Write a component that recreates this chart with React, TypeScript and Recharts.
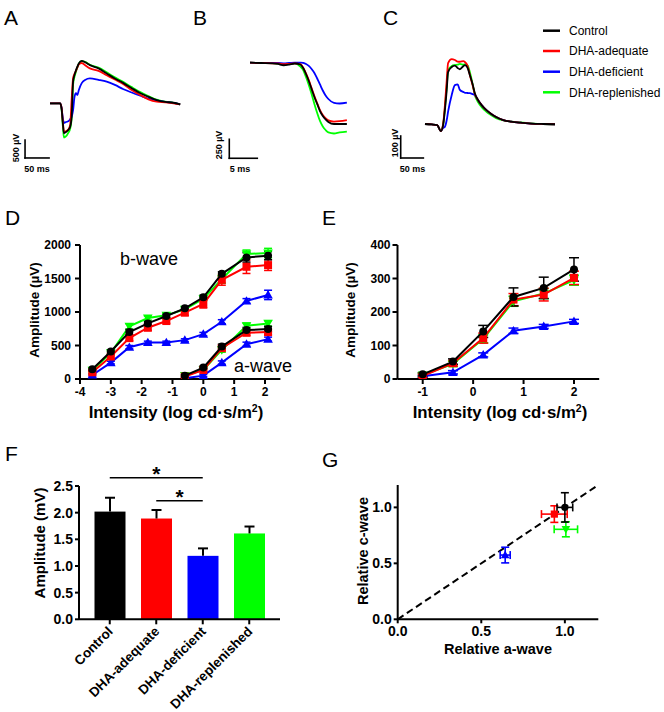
import React from "react";
import {
  LineChart,
  Line,
  XAxis,
  YAxis,
  ReferenceLine,
  ScatterChart,
  Scatter,
  ErrorBar,
  BarChart,
  Bar,
  Cell,
} from "recharts";

const FONT = "'Liberation Sans', Arial, Helvetica, sans-serif";

const groups = ["Control", "DHA-adequate", "DHA-deficient", "DHA-replenished"];
const groupColors = ["#000000", "#ff0000", "#0000ff", "#00ff00"];
const groupMarks = ["circle", "square", "up", "down"];
// replenished first, control last so black sits on top
const drawOrder = [3, 2, 1, 0];

// A: mixed rod-cone response (ms, µV)
const traceATime = [0, 21, 24, 27, 29, 33, 38, 42, 45, 48, 51, 54, 57, 60, 66, 73, 83, 101, 118, 135, 153, 170, 188, 205, 222, 240, 257, 271];
const traceAControl = [0, 0, -140, -600, -830, -800, -740, -650, -370, 600, 790, 920, 1020, 1110, 1180, 1140, 1060, 970, 830, 690, 560, 420, 280, 180, 90, 40, 15, -30];
const traceAAdequate = [0, 0, -120, -560, -790, -780, -730, -600, 100, 700, 820, 900, 1000, 1080, 1120, 1060, 970, 900, 780, 660, 530, 370, 230, 110, 45, 25, 0, -30];
const traceADeficient = [0, 0, -120, -450, -540, -520, -500, -440, -370, -190, 180, 280, 230, 370, 560, 650, 690, 650, 600, 510, 390, 300, 210, 130, 80, 40, 10, -30];
const traceAReplenished = [0, 0, -160, -680, -950, -920, -820, -700, -420, 520, 740, 880, 1000, 1100, 1170, 1150, 1070, 990, 860, 720, 590, 450, 310, 200, 100, 45, 15, -30];

// B: a-wave leading edge (ms, µV)
const traceBTime = [0, 2, 4, 5, 6, 7, 8, 9, 9.5, 10, 10.5, 11, 11.5, 12, 12.5, 13, 13.5, 14, 15, 16, 17.3];
const traceBControl = [0, -4, -8, -17, -34, -26, -11, -24, -70, -149, -241, -346, -451, -543, -636, -701, -747, -780, -807, -807, -807];
const traceBAdequate = [0, -4, -8, -10, -20, -15, -8, -20, -65, -140, -230, -335, -440, -535, -625, -690, -730, -760, -775, -770, -755];
const traceBDeficient = [0, -4, -4, -4, -8, -4, 0, 0, -4, -17, -43, -83, -136, -208, -287, -366, -432, -478, -530, -537, -526];
const traceBReplenished = [0, -4, -4, -11, -17, -11, -4, -53, -96, -188, -293, -412, -543, -662, -767, -839, -886, -918, -932, -918, -908];

// C: c-wave (ms, µV)
const traceCTime = [0, 15, 27, 35, 40, 44, 48, 51, 59, 66, 72, 77, 85, 88, 94, 99, 105, 110, 117, 125, 135, 144, 157, 173, 190, 210, 234, 261, 287];
const traceCControl = [0, -2, -5, -32, -5, 64, 155, 236, 259, 265, 255, 249, 264, 268, 255, 223, 182, 140, 109, 86, 64, 49, 32, 18, 11, 6, 2, 0, -1];
const traceCAdequate = [0, -2, -5, -32, 0, 86, 200, 277, 295, 291, 284, 283, 286, 282, 264, 223, 177, 136, 109, 86, 64, 49, 32, 18, 11, 6, 2, 0, -1];
const traceCDeficient = [0, -2, -5, -32, -18, -12, 18, 56, 132, 177, 180, 155, 145, 142, 141, 140, 136, 132, 109, 86, 64, 49, 32, 18, 11, 6, 2, 0, -1];
const traceCReplenished = [0, -2, -5, -32, -5, 73, 173, 245, 264, 268, 270, 273, 270, 271, 266, 236, 182, 132, 100, 77, 57, 43, 27, 16, 11, 7, 3, 0, -1];

// D: intensity-response, b-wave and a-wave (µV)
const dIntensityB = [-3.6, -3.0, -2.4, -1.8, -1.2, -0.6, 0, 0.6, 1.4, 2.1];
const dIntensityA = [-0.6, 0, 0.6, 1.4, 2.1];
const bWaveControl = [145, 410, 700, 830, 940, 1055, 1220, 1570, 1815, 1840];
const bWaveAdequate = [100, 335, 610, 765, 865, 990, 1120, 1480, 1675, 1700];
const bWaveDeficient = [60, 245, 475, 545, 545, 580, 670, 855, 1165, 1255];
const bWaveReplenished = [130, 390, 785, 910, 950, 1040, 1200, 1490, 1865, 1880];
const bWaveControlSem = [25, 25, 40, 30, 25, 25, 30, 30, 70, 60];
const bWaveAdequateSem = [25, 30, 40, 40, 35, 40, 60, 80, 100, 80];
const bWaveDeficientSem = [15, 20, 25, 20, 20, 20, 25, 30, 35, 70];
const bWaveReplenishedSem = [25, 25, 40, 30, 30, 25, 30, 60, 60, 70];
const aWaveControl = [50, 170, 485, 730, 745];
const aWaveAdequate = [35, 135, 460, 690, 700];
const aWaveDeficient = [10, 50, 245, 520, 595];
const aWaveReplenished = [50, 135, 435, 795, 830];
const aWaveControlSem = [15, 20, 35, 40, 40];
const aWaveAdequateSem = [15, 20, 35, 40, 40];
const aWaveDeficientSem = [10, 15, 25, 30, 30];
const aWaveReplenishedSem = [15, 20, 35, 40, 40];
const dTicksX = [-4, -3, -2, -1, 0, 1, 2];
const dTicksY = [0, 500, 1000, 1500, 2000];

// E: cone intensity-response (µV)
const eIntensity = [-1, -0.4, 0.2, 0.8, 1.4, 2.0];
const coneControl = [14, 52, 142, 245, 272, 327];
const coneAdequate = [9, 47, 122, 237, 252, 302];
const coneDeficient = [8, 20, 72, 144, 157, 172];
const coneReplenished = [12, 45, 120, 232, 255, 295];
const coneControlSem = [5, 8, 18, 27, 32, 35];
const coneAdequateSem = [5, 8, 15, 18, 19, 20];
const coneDeficientSem = [3, 5, 6, 8, 6, 6];
const coneReplenishedSem = [5, 8, 12, 15, 15, 15];
const eTicksX = [-1, 0, 1, 2];
const eTicksY = [0, 100, 200, 300, 400];

// F: c-wave amplitude (mV)
const cWaveAmp = [2.02, 1.89, 1.19, 1.61];
const cWaveSem = [0.26, 0.16, 0.14, 0.13];
const fTicksY = [0, 0.5, 1, 1.5, 2, 2.5];

// G: relative a-wave vs relative c-wave
const relA = [1.0, 0.937, 0.643, 1.006];
const relASem = [0.047, 0.077, 0.03, 0.07];
const relC = [1.0, 0.94, 0.574, 0.804];
const relCSem = [0.131, 0.074, 0.07, 0.067];
const gTicks = [0, 0.5, 1.0];

const axisLine = { stroke: "#000", strokeWidth: 2 };
const tickSmall = { fontSize: 12, fontWeight: 700, fill: "#000" };
const tickLarge = { fontSize: 14, fontWeight: 700, fill: "#000" };

function traceRows(time: number[], series: number[][]) {
  return time.map((t, i) => ({
    t,
    s0: series[0][i],
    s1: series[1][i],
    s2: series[2][i],
    s3: series[3][i],
  }));
}

const toPoints = (xs: number[], ys: number[], es: number[]) =>
  xs.map((x, i) => ({ x, y: ys[i], e: es[i] }));

function Mark({ cx, cy, kind, color, s }: any) {
  if (cx == null || cy == null) return null;
  if (kind === "circle") return <circle cx={cx} cy={cy} r={s} fill={color} />;
  if (kind === "square")
    return <rect x={cx - s} y={cy - s} width={2 * s} height={2 * s} fill={color} />;
  const h = s * 1.2;
  const pts =
    kind === "up"
      ? `${cx},${cy - h} ${cx + h},${cy + h * 0.75} ${cx - h},${cy + h * 0.75}`
      : `${cx},${cy + h} ${cx + h},${cy - h * 0.75} ${cx - h},${cy - h * 0.75}`;
  return <polygon points={pts} fill={color} />;
}

function TracePanel({ left, top, width, height, rows, xDomain, yDomain, bar }: any) {
  return (
    <div style={{ position: "absolute", left, top }}>
      <LineChart width={width} height={height} data={rows} margin={{ top: 0, right: 0, bottom: 0, left: 0 }}>
        <XAxis type="number" dataKey="t" domain={xDomain} hide allowDataOverflow />
        <YAxis type="number" domain={yDomain} hide allowDataOverflow width={0} />
        <ReferenceLine
          segment={[{ x: bar.t, y: bar.v + bar.dv }, { x: bar.t, y: bar.v }]}
          stroke="#000"
          strokeWidth={1.6}
          strokeLinecap="square"
        />
        <ReferenceLine
          segment={[{ x: bar.t, y: bar.v }, { x: bar.t + bar.dt, y: bar.v }]}
          stroke="#000"
          strokeWidth={1.6}
          strokeLinecap="square"
        />
        {drawOrder.map((g) => (
          <Line
            key={g}
            dataKey={`s${g}`}
            type="monotone"
            stroke={groupColors[g]}
            strokeWidth={1.8}
            dot={false}
            isAnimationActive={false}
          />
        ))}
      </LineChart>
    </div>
  );
}

function renderSeries(key: string, points: any[], g: number, s: number, cap: number) {
  return (
    <Scatter
      key={key}
      data={points}
      line={{ stroke: groupColors[g], strokeWidth: 2 }}
      shape={(p: any) => <Mark cx={p.cx} cy={p.cy} kind={groupMarks[g]} color={groupColors[g]} s={s} />}
      isAnimationActive={false}
    >
      <ErrorBar dataKey="e" direction="y" width={cap} stroke={groupColors[g]} strokeWidth={1.5} />
    </Scatter>
  );
}

function BarWithError(props: any) {
  const { x, y, width, height, fill, payload } = props;
  const pxPerUnit = height / payload.amp;
  const top = y - payload.err * pxPerUnit;
  const cx = x + width / 2;
  return (
    <g>
      <rect x={x} y={y} width={width} height={height} fill={fill} />
      <line x1={cx} x2={cx} y1={y} y2={top} stroke="#000" strokeWidth={2} />
      <line x1={cx - 5} x2={cx + 5} y1={top} y2={top} stroke="#000" strokeWidth={2} />
    </g>
  );
}

function SlantTick(props: any) {
  const { x, y, payload } = props;
  return (
    <g transform={`translate(${x + 4},${y + 6})`}>
      <text textAnchor="end" transform="rotate(-45)" fontSize={13.5} fontWeight={700} fill="#000">
        {payload.value}
      </text>
    </g>
  );
}

function starLabel(props: any) {
  const vb = props.viewBox;
  return (
    <text x={vb.x + vb.width / 2} y={vb.y + 3} textAnchor="middle" fontSize={21} fontWeight={700} fill="#000">
      *
    </text>
  );
}

const legendRowY = [30.7, 51, 71.7, 92.3];

function Overlay() {
  return (
    <svg
      width={664}
      height={712}
      style={{ position: "absolute", left: 0, top: 0, pointerEvents: "none" }}
      fontFamily={FONT}
    >
      <text x={4} y={25} fontSize={21}>A</text>
      <text x={193} y={25} fontSize={21}>B</text>
      <text x={383} y={25} fontSize={21}>C</text>
      <text x={5} y={225} fontSize={21}>D</text>
      <text x={322} y={225} fontSize={21}>E</text>
      <text x={5} y={461} fontSize={21}>F</text>
      <text x={322} y={467} fontSize={21}>G</text>

      {groups.map((g, i) => (
        <g key={g}>
          <line x1={543} x2={560} y1={legendRowY[i]} y2={legendRowY[i]} stroke={groupColors[i]} strokeWidth={2.5} />
          <text x={569} y={legendRowY[i] + 4.3} fontSize={12}>{g}</text>
        </g>
      ))}

      <g fontSize={9} fontWeight={700}>
        <text x={18.7} y={148} textAnchor="middle" transform="rotate(-90 18.7 148)">500 µV</text>
        <text x={37} y={171.5} textAnchor="middle">50 ms</text>
        <text x={221.5} y={145} textAnchor="middle" transform="rotate(-90 221.5 145)">250 µV</text>
        <text x={240} y={171.5} textAnchor="middle">5 ms</text>
        <text x={397.5} y={143} textAnchor="middle" transform="rotate(-90 397.5 143)">100 µV</text>
        <text x={412.5} y={171.5} textAnchor="middle">50 ms</text>
      </g>

      <text x={120} y={265} fontSize={18}>b-wave</text>
      <text x={234} y={372} fontSize={18}>a-wave</text>

      <g fontSize={13.5} fontWeight={700}>
        <text x={38.8} y={310} textAnchor="middle" transform="rotate(-90 38.8 310)">Amplitude (µV)</text>
        <text x={354.8} y={310} textAnchor="middle" transform="rotate(-90 354.8 310)">Amplitude (µV)</text>
      </g>
      <g fontSize={16.8} fontWeight={700}>
        <text x={176} y={418} textAnchor="middle">
          Intensity (log cd·s/m<tspan dy={-6} fontSize={10.5}>2</tspan><tspan dy={6}>)</tspan>
        </text>
        <text x={500} y={418} textAnchor="middle">
          Intensity (log cd·s/m<tspan dy={-6} fontSize={10.5}>2</tspan><tspan dy={6}>)</tspan>
        </text>
      </g>
      <g fontSize={15} fontWeight={700}>
        <text x={45} y={543} textAnchor="middle" transform="rotate(-90 45 543)">Amplitude (mV)</text>
      </g>
      <g fontSize={14.5} fontWeight={700}>
        <text x={367.7} y={551} textAnchor="middle" transform="rotate(-90 367.7 551)">Relative c-wave</text>
        <text x={498} y={654} textAnchor="middle">Relative a-wave</text>
      </g>
    </svg>
  );
}

export default function App() {
  const rowsA = traceRows(traceATime, [traceAControl, traceAAdequate, traceADeficient, traceAReplenished]);
  const rowsB = traceRows(traceBTime, [traceBControl, traceBAdequate, traceBDeficient, traceBReplenished]);
  const rowsC = traceRows(traceCTime, [traceCControl, traceCAdequate, traceCDeficient, traceCReplenished]);

  const bWave = [bWaveControl, bWaveAdequate, bWaveDeficient, bWaveReplenished];
  const bWaveSem = [bWaveControlSem, bWaveAdequateSem, bWaveDeficientSem, bWaveReplenishedSem];
  const aWave = [aWaveControl, aWaveAdequate, aWaveDeficient, aWaveReplenished];
  const aWaveSem = [aWaveControlSem, aWaveAdequateSem, aWaveDeficientSem, aWaveReplenishedSem];
  const cone = [coneControl, coneAdequate, coneDeficient, coneReplenished];
  const coneSem = [coneControlSem, coneAdequateSem, coneDeficientSem, coneReplenishedSem];

  const fData = groups.map((name, i) => ({ name, amp: cWaveAmp[i], err: cWaveSem[i] }));

  return (
    <div
      style={{
        position: "absolute",
        left: 0,
        top: 0,
        width: 664,
        height: 712,
        background: "#fff",
        fontFamily: FONT,
        overflow: "hidden",
      }}
    >
      <TracePanel
        left={20}
        top={55}
        width={165}
        height={107}
        rows={rowsA}
        xDomain={[-62.5, 281]}
        yDomain={[-1631, 1342]}
        bar={{ t: -52, v: -1519, dt: 50, dv: 500 }}
      />
      <TracePanel
        left={220}
        top={55}
        width={130}
        height={107}
        rows={rowsB}
        xDomain={[-5.36, 17.86]}
        yDomain={[-1307, 101]}
        bar={{ t: -3.7, v: -1258, dt: 5, dv: 250 }}
      />
      <TracePanel
        left={395}
        top={50}
        width={165}
        height={112}
        rows={rowsC}
        xDomain={[-66.2, 298]}
        yDomain={[-172.7, 336.4]}
        bar={{ t: -53.6, v: -154.5, dt: 50, dv: 100 }}
      />

      {/* D */}
      <div style={{ position: "absolute", left: 0, top: 230 }}>
        <ScatterChart width={300} height={200} margin={{ top: 15, right: 19.6, left: 35, bottom: 21 }}>
          <XAxis
            type="number"
            dataKey="x"
            domain={[-4, 2.5]}
            ticks={dTicksX}
            interval={0}
            allowDataOverflow
            height={30}
            axisLine={axisLine}
            tickLine={axisLine}
            tickSize={5}
            tickMargin={3}
            tick={tickSmall}
          />
          <YAxis
            type="number"
            dataKey="y"
            domain={[0, 2000]}
            ticks={dTicksY}
            interval={0}
            allowDataOverflow
            width={45}
            axisLine={axisLine}
            tickLine={axisLine}
            tickSize={5}
            tickMargin={4}
            tick={tickSmall}
          />
          {drawOrder.map((g) => renderSeries(`b${g}`, toPoints(dIntensityB, bWave[g], bWaveSem[g]), g, 4, 4))}
          {drawOrder.map((g) => renderSeries(`a${g}`, toPoints(dIntensityA, aWave[g], aWaveSem[g]), g, 4, 4))}
        </ScatterChart>
      </div>

      {/* E */}
      <div style={{ position: "absolute", left: 320, top: 230 }}>
        <ScatterChart width={300} height={200} margin={{ top: 15, right: 20.8, left: 37.5, bottom: 21 }}>
          <XAxis
            type="number"
            dataKey="x"
            domain={[-1.5, 2.5]}
            ticks={eTicksX}
            interval={0}
            allowDataOverflow
            height={30}
            axisLine={axisLine}
            tickLine={axisLine}
            tickSize={5}
            tickMargin={3}
            tick={tickSmall}
          />
          <YAxis
            type="number"
            dataKey="y"
            domain={[0, 400]}
            ticks={eTicksY}
            interval={0}
            allowDataOverflow
            width={40}
            axisLine={axisLine}
            tickLine={axisLine}
            tickSize={5}
            tickMargin={2}
            tick={tickSmall}
          />
          {drawOrder.map((g) => renderSeries(`e${g}`, toPoints(eIntensity, cone[g], coneSem[g]), g, 4, 5))}
        </ScatterChart>
      </div>

      {/* F */}
      <div style={{ position: "absolute", left: 0, top: 455 }}>
        <BarChart
          width={300}
          height={257}
          data={fData}
          barSize={31}
          margin={{ top: 31, right: 20, left: 29, bottom: 2.7 }}
        >
          <XAxis
            dataKey="name"
            type="category"
            height={90}
            interval={0}
            padding={{ left: 7.5, right: 7.5 }}
            axisLine={axisLine}
            tickLine={axisLine}
            tickSize={5}
            tick={<SlantTick />}
          />
          <YAxis
            type="number"
            domain={[0, 2.5]}
            ticks={fTicksY}
            interval={0}
            width={50}
            axisLine={axisLine}
            tickLine={axisLine}
            tickSize={4}
            tickMargin={2}
            tick={tickLarge}
            tickFormatter={(v: number) => v.toFixed(1)}
          />
          <Bar dataKey="amp" shape={<BarWithError />} isAnimationActive={false}>
            {fData.map((d, i) => (
              <Cell key={d.name} fill={groupColors[i]} />
            ))}
          </Bar>
          <ReferenceLine
            segment={[
              { x: "Control", y: 2.656 },
              { x: "DHA-deficient", y: 2.656 },
            ]}
            stroke="#000"
            strokeWidth={1.5}
            ifOverflow="visible"
            label={starLabel}
          />
          <ReferenceLine
            segment={[
              { x: "DHA-adequate", y: 2.224 },
              { x: "DHA-deficient", y: 2.224 },
            ]}
            stroke="#000"
            strokeWidth={1.5}
            ifOverflow="visible"
            label={starLabel}
          />
        </BarChart>
      </div>

      {/* G */}
      <div style={{ position: "absolute", left: 330, top: 470 }}>
        <ScatterChart width={300} height={200} margin={{ top: 15, right: 31.7, left: 27.7, bottom: 20.7 }}>
          <XAxis
            type="number"
            dataKey="x"
            domain={[0, 1.2]}
            ticks={gTicks}
            interval={0}
            allowDataOverflow
            height={30}
            axisLine={axisLine}
            tickLine={axisLine}
            tickSize={4}
            tickMargin={3}
            tick={tickLarge}
            tickFormatter={(v: number) => v.toFixed(1)}
          />
          <YAxis
            type="number"
            dataKey="y"
            domain={[0, 1.2]}
            ticks={gTicks}
            interval={0}
            allowDataOverflow
            width={40}
            axisLine={axisLine}
            tickLine={axisLine}
            tickSize={4}
            tickMargin={2}
            tick={tickLarge}
            tickFormatter={(v: number) => v.toFixed(1)}
          />
          <ReferenceLine
            segment={[
              { x: 0, y: 0 },
              { x: 1.2, y: 1.2 },
            ]}
            stroke="#000"
            strokeWidth={2}
            strokeDasharray="7 4"
          />
          {drawOrder.map((g) => (
            <Scatter
              key={`g${g}`}
              data={[{ x: relA[g], y: relC[g], ex: relASem[g], ey: relCSem[g] }]}
              shape={(p: any) => <Mark cx={p.cx} cy={p.cy} kind={groupMarks[g]} color={groupColors[g]} s={3.6} />}
              isAnimationActive={false}
            >
              <ErrorBar dataKey="ex" direction="x" width={4} stroke={groupColors[g]} strokeWidth={1.6} />
              <ErrorBar dataKey="ey" direction="y" width={4} stroke={groupColors[g]} strokeWidth={1.6} />
            </Scatter>
          ))}
        </ScatterChart>
      </div>

      <Overlay />
    </div>
  );
}
